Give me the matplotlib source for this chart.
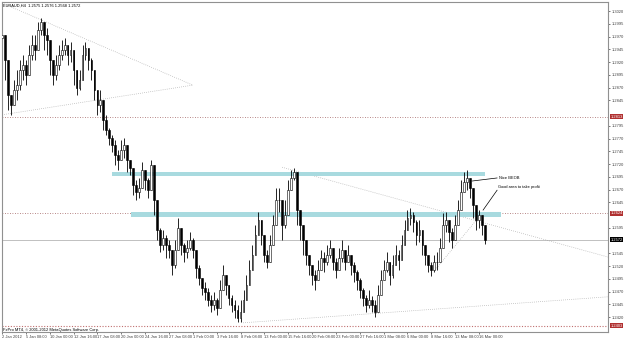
import matplotlib
matplotlib.use("Agg")
import matplotlib.pyplot as plt
from matplotlib.patches import Rectangle

plt.rcParams['font.family'] = ['Liberation Sans', 'DejaVu Sans']

# close / high / low for each candle (one candle drawn every 2 H4 bars)
closes = [
    1.2973, 1.2924, 1.2856, 1.2836, 1.2866, 1.2875, 1.2905, 1.2915, 1.2895, 1.2934,
    1.2954, 1.2944, 1.2983, 1.2999, 1.2973, 1.2964, 1.2924, 1.2895, 1.2915, 1.2934,
    1.2944, 1.2954, 1.2934, 1.2944, 1.2905, 1.2870, 1.2885, 1.2934, 1.2948, 1.2924,
    1.2905, 1.2866, 1.2836, 1.2846, 1.2807, 1.2787, 1.2772, 1.2758, 1.2738, 1.2728,
    1.2748, 1.2758, 1.2728, 1.2713, 1.2679, 1.2666, 1.2673, 1.2709, 1.2689, 1.2670,
    1.2719, 1.2650, 1.2591, 1.2562, 1.2575, 1.2562, 1.2552, 1.2522, 1.2552, 1.2595,
    1.2562, 1.2548, 1.2556, 1.2571, 1.2552, 1.2517, 1.2497, 1.2477, 1.2470, 1.2454,
    1.2444, 1.2454, 1.2438, 1.2474, 1.2503, 1.2483, 1.2458, 1.2444, 1.2434, 1.2419,
    1.2430, 1.2454, 1.2483, 1.2513, 1.2542, 1.2581, 1.2611, 1.2581, 1.2542, 1.2528,
    1.2562, 1.2601, 1.2650, 1.2650, 1.2601, 1.2620, 1.2670, 1.2693, 1.2705, 1.2630,
    1.2601, 1.2571, 1.2542, 1.2522, 1.2503, 1.2493, 1.2513, 1.2536, 1.2528, 1.2542,
    1.2556, 1.2528, 1.2513, 1.2536, 1.2552, 1.2528, 1.2542, 1.2522, 1.2509, 1.2493,
    1.2474, 1.2458, 1.2444, 1.2454, 1.2444, 1.2430, 1.2464, 1.2493, 1.2513, 1.2528,
    1.2503, 1.2522, 1.2542, 1.2532, 1.2562, 1.2591, 1.2615, 1.2620, 1.2607, 1.2581,
    1.2591, 1.2562, 1.2542, 1.2522, 1.2513, 1.2528, 1.2528, 1.2556, 1.2601, 1.2611,
    1.2587, 1.2571, 1.2601, 1.2630, 1.2666, 1.2685, 1.2693, 1.2673, 1.2640, 1.2611,
    1.2620, 1.2601, 1.2572,
]
highs = [
    1.2987, 1.2944, 1.2924, 1.2856, 1.2885, 1.2905, 1.2924, 1.2934, 1.2924, 1.2954,
    1.2973, 1.2973, 1.2999, 1.3007, 1.2993, 1.2987, 1.2954, 1.2924, 1.2934, 1.2954,
    1.2964, 1.2968, 1.2954, 1.2960, 1.2934, 1.2895, 1.2905, 1.2954, 1.2960, 1.2944,
    1.2928, 1.2905, 1.2856, 1.2866, 1.2836, 1.2817, 1.2791, 1.2777, 1.2768, 1.2748,
    1.2768, 1.2772, 1.2748, 1.2728, 1.2709, 1.2689, 1.2693, 1.2724, 1.2709, 1.2693,
    1.2728, 1.2699, 1.2630, 1.2595, 1.2591, 1.2581, 1.2571, 1.2548, 1.2571, 1.2615,
    1.2581, 1.2566, 1.2571, 1.2587, 1.2575, 1.2542, 1.2522, 1.2497, 1.2489, 1.2477,
    1.2464, 1.2470, 1.2458, 1.2493, 1.2522, 1.2503, 1.2477, 1.2464, 1.2454, 1.2444,
    1.2454, 1.2474, 1.2503, 1.2532, 1.2562, 1.2601, 1.2626, 1.2607, 1.2562, 1.2552,
    1.2581, 1.2620, 1.2673, 1.2673, 1.2630, 1.2650, 1.2689, 1.2709, 1.2713, 1.2679,
    1.2626, 1.2601, 1.2562, 1.2542, 1.2522, 1.2513, 1.2532, 1.2552, 1.2548, 1.2562,
    1.2571, 1.2548, 1.2536, 1.2556, 1.2571, 1.2552, 1.2562, 1.2542, 1.2528, 1.2513,
    1.2497, 1.2477, 1.2464, 1.2474, 1.2462, 1.2454, 1.2483, 1.2513, 1.2532, 1.2548,
    1.2528, 1.2542, 1.2562, 1.2552, 1.2581, 1.2611, 1.2630, 1.2634, 1.2626, 1.2611,
    1.2611, 1.2581, 1.2562, 1.2542, 1.2528, 1.2542, 1.2548, 1.2575, 1.2624, 1.2626,
    1.2607, 1.2595, 1.2620, 1.2650, 1.2689, 1.2705, 1.2709, 1.2689, 1.2670, 1.2634,
    1.2630, 1.2620, 1.2601,
]
lows = [
    1.2954, 1.2885, 1.2826, 1.2817, 1.2836, 1.2846, 1.2866, 1.2885, 1.2875, 1.2905,
    1.2924, 1.2924, 1.2954, 1.2973, 1.2944, 1.2934, 1.2895, 1.2875, 1.2885, 1.2905,
    1.2924, 1.2934, 1.2915, 1.2920, 1.2875, 1.2856, 1.2866, 1.2905, 1.2924, 1.2905,
    1.2885, 1.2846, 1.2817, 1.2822, 1.2787, 1.2777, 1.2758, 1.2744, 1.2719, 1.2709,
    1.2728, 1.2732, 1.2705, 1.2699, 1.2660, 1.2650, 1.2654, 1.2689, 1.2670, 1.2654,
    1.2689, 1.2620, 1.2571, 1.2548, 1.2552, 1.2536, 1.2536, 1.2503, 1.2517, 1.2571,
    1.2542, 1.2528, 1.2536, 1.2552, 1.2536, 1.2497, 1.2483, 1.2464, 1.2454, 1.2442,
    1.2430, 1.2434, 1.2424, 1.2444, 1.2474, 1.2464, 1.2444, 1.2430, 1.2419, 1.2411,
    1.2411, 1.2438, 1.2464, 1.2489, 1.2522, 1.2556, 1.2587, 1.2562, 1.2528, 1.2517,
    1.2542, 1.2581, 1.2620, 1.2626, 1.2571, 1.2595, 1.2650, 1.2679, 1.2689, 1.2601,
    1.2571, 1.2542, 1.2522, 1.2503, 1.2483, 1.2474, 1.2493, 1.2517, 1.2509, 1.2522,
    1.2536, 1.2513, 1.2497, 1.2517, 1.2528, 1.2513, 1.2528, 1.2503, 1.2489, 1.2474,
    1.2458, 1.2442, 1.2430, 1.2438, 1.2430, 1.2421, 1.2434, 1.2474, 1.2493, 1.2509,
    1.2483, 1.2497, 1.2522, 1.2513, 1.2542, 1.2571, 1.2595, 1.2601, 1.2587, 1.2562,
    1.2567, 1.2542, 1.2522, 1.2509, 1.2501, 1.2509, 1.2513, 1.2536, 1.2575, 1.2587,
    1.2567, 1.2556, 1.2575, 1.2607, 1.2640, 1.2666, 1.2670, 1.2654, 1.2615, 1.2591,
    1.2595, 1.2581, 1.2564,
]
first_open = 1.2968

date_labels = ["2 Jan 2012", "5 Jan 08:00", "10 Jan 00:00", "12 Jan 16:00", "17 Jan 08:00",
               "20 Jan 00:00", "24 Jan 16:00", "27 Jan 08:00", "1 Feb 00:00", "3 Feb 16:00",
               "8 Feb 08:00", "13 Feb 00:00", "15 Feb 16:00", "20 Feb 08:00", "23 Feb 00:00",
               "27 Feb 16:00", "1 Mar 08:00", "6 Mar 00:00", "8 Mar 16:00", "13 Mar 08:00",
               "16 Mar 00:00"]
price_ticks = [1.3020 - 0.0025 * i for i in range(26)]

level_lines = [1.2813, 1.2624, 1.2403]
bid = 1.2572
zone_upper = (1.2697, 1.2705)
zone_lower = (1.2617, 1.2626)

FS = 2.9
W, H = 625, 341
fig = plt.figure(figsize=(W / 100, H / 100), dpi=100)
ax = fig.add_axes([2 / W, 1 - 332 / H, 606 / W, 330 / H])
ax.set_xlim(0, 406.5)
ax.set_ylim(1.2391, 1.3038)

# zones
ax.add_patch(Rectangle((73.8, zone_upper[0]), 324 - 73.8, zone_upper[1] - zone_upper[0],
                       facecolor="#a8dadf", edgecolor="none", zorder=1))
ax.add_patch(Rectangle((86.6, zone_lower[0]), 335 - 86.6, zone_lower[1] - zone_lower[0],
                       facecolor="#a8dadf", edgecolor="none", zorder=1))

# horizontal levels
ax.axhline(level_lines[0], color="#a06060", lw=0.6, ls=(0, (1, 2)), zorder=0)
ax.axhline(level_lines[1], color="#a06060", lw=0.6, ls=(0, (1, 2)), zorder=0)
ax.axhline(level_lines[2], color="#c07070", lw=0.8, ls=(0, (1, 1.5)), zorder=0)
ax.axhline(bid, color="#c0c0c0", lw=0.7, zorder=0)

# trend lines
tl = dict(color="#a0a0a0", lw=0.5, ls=(0, (1, 2)), zorder=0)
ax.plot([0, 128, 0.5], [1.3036, 1.2875, 1.2817], **tl)
ax.plot([188, 406.5], [1.2714, 1.2538], **tl)
ax.plot([161.7, 406.5], [1.2409, 1.2460], **tl)
ax.plot([290.6, 319.5], [1.2513, 1.2615], **tl)

# candles
prev = first_open
for k in range(len(closes)):
    x = 2 * k
    o, c = prev, closes[k]
    hi = max(highs[k], o, c)
    lo = min(lows[k], o, c)
    ax.plot([x, x], [lo, hi], color="black", lw=0.6, zorder=2, solid_capstyle="butt")
    body = max(abs(c - o), 0.00005)
    if c >= o:
        ax.add_patch(Rectangle((x - 0.6, o), 1.2, body, facecolor="white",
                               edgecolor="black", lw=0.4, zorder=3))
    else:
        ax.add_patch(Rectangle((x - 0.6, c), 1.2, body, facecolor="black",
                               edgecolor="black", lw=0.4, zorder=3))
    prev = c

# annotations
ax.plot([315.3, 332.1], [1.2687, 1.2693], color="black", lw=0.5)
ax.text(333.4, 1.2693, "Nice BEOB", fontsize=FS, va="center", ha="left")
ax.plot([332.1, 322.7], [1.2669, 1.2630], color="black", lw=0.5)
ax.text(332.8, 1.2675, "Good area to take profit", fontsize=FS, va="center", ha="left")

ax.text(1, 1.3031, "EURAUD,H4  1.2575 1.2576 1.2568 1.2572", fontsize=FS, va="center")
ax.text(1, 1.2395, "FxPro MT4, \u00a9 2001-2012 MetaQuotes Software Corp.", fontsize=FS, va="center")

# axes
for s in ax.spines.values():
    s.set_color("#909090")
    s.set_linewidth(0.8)
ax.yaxis.tick_right()
tags = level_lines + [bid]
shown = [p for p in price_ticks if min(abs(p - t) for t in tags) > 0.0011]
ax.set_yticks(shown)
ax.set_yticklabels([f"{p:.4f}" for p in shown], fontsize=FS)
ax.set_xticks([16 * i for i in range(len(date_labels))])
ax.set_xticklabels(date_labels, fontsize=FS, ha="left")
ax.tick_params(axis="both", length=1.5, width=0.5, pad=1, colors="#404040")

# level tags on the price scale
for lv in level_lines:
    ax.text(1.004, lv, f"{lv:.4f}", transform=ax.get_yaxis_transform(), fontsize=FS,
            color="white", va="center", ha="left",
            bbox=dict(boxstyle="square,pad=0.1", facecolor="#b03030", edgecolor="none"))
ax.text(1.004, bid, f"{bid:.4f}", transform=ax.get_yaxis_transform(), fontsize=FS,
        color="white", va="center", ha="left",
        bbox=dict(boxstyle="square,pad=0.1", facecolor="black", edgecolor="none"))

fig.savefig("out.png", dpi=100)
